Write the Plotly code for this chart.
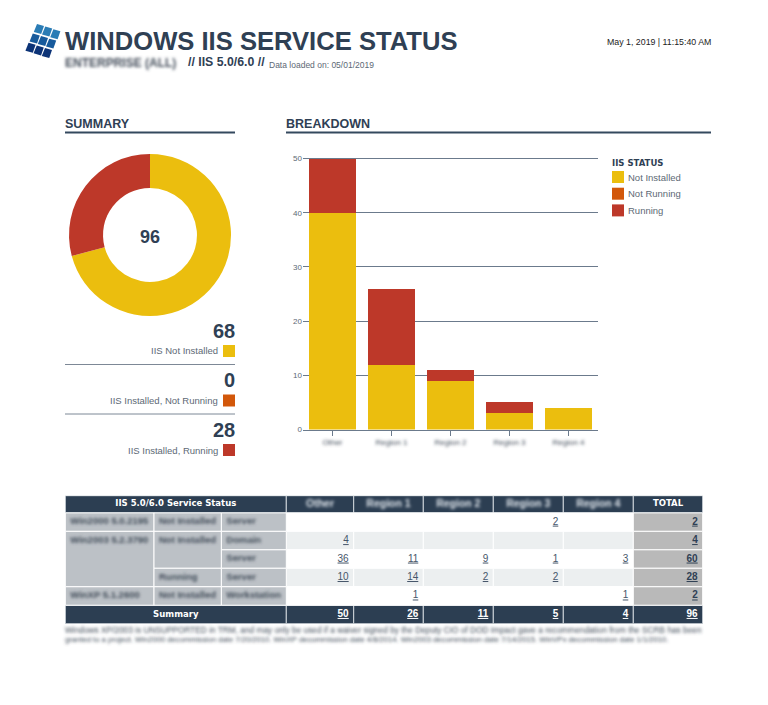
import plotly.graph_objects as go

W, H = 768, 705

# data
regions = ["Other", "Region 1", "Region 2", "Region 3", "Region 4"]
not_installed = [40, 12, 9, 3, 4]
not_running = [0, 0, 0, 0, 0]
running = [10, 14, 2, 2, 0]
y_ticks = [0, 10, 20, 30, 40, 50]

summary_labels = ["IIS Not Installed", "IIS Installed, Not Running", "IIS Installed, Running"]
summary_values = [68, 0, 28]
summary_total = "96"

table_title = "IIS 5.0/6.0 Service Status"
os_labels = [("Win2000 5.0.2195", 1), ("Win2003 5.2.3790", 3), ("WinXP 5.1.2600", 1)]
status_labels = [("Not Installed", 1), ("Not Installed", 2), ("Running", 1), ("Not Installed", 1)]
type_labels = ["Server", "Domain", "Server", "Server", "Workstation"]
table_rows = [
    [None, None, None, 2, None],
    [4, None, None, None, None],
    [36, 11, 9, 1, 3],
    [10, 14, 2, 2, None],
    [None, 1, None, None, 1],
]
row_totals = [2, 4, 60, 28, 2]
col_totals = [50, 26, 11, 5, 4]
grand_total = 96

footnote = [
    "Windows XP/2003 is UNSUPPORTED in TRM, and may only be used if a waiver signed by the Deputy CIO of DOD Impact gave a recommendation from the SCRB has been",
    "granted to a project. Win2000 decommission date 7/20/2010. WinXP decommission date 4/8/2014. Win2003 decommission date 7/14/2015. WinVPx decommission date 1/1/2010.",
]

# styles
NAVY = "#2c3e52"
TEXT = "#2f4054"
GREY = "#5d6975"
YELLOW = "#ebbe0e"
ORANGE = "#d2570a"
RED = "#bd3829"
LABEL_BG = "#bcc1c6"
STRIPE = "#eceff0"
TOTAL_BG = "#b9b9b9"
ARIAL = "Liberation Sans, Arial, sans-serif"
WIDE = "DejaVu Sans, Verdana, sans-serif"
# text in these two colours gets blurred once the page has drawn
BLUR_DARK = "#3f4a57"
BLUR_LIGHT = "#dfe5eb"


def px(x):
    return x / W


def py(y):
    return 1 - y / H


def label(x, y, text, size=10, color=TEXT, bold=False, anchor="left", family=ARIAL):
    font = dict(size=size, color=color, family=family, weight="bold" if bold else "normal")
    fig.add_annotation(xref="paper", yref="paper", x=px(x), y=py(y), text=text, showarrow=False,
                       xanchor=anchor, yanchor="middle", align=anchor, font=font, borderpad=0, borderwidth=0)


def box(x0, y0, x1, y1, color, line=None, xref="paper", yref="paper"):
    if xref == "paper":
        x0, x1, y0, y1 = px(x0), px(x1), py(y0), py(y1)
    fig.add_shape(type="rect", xref=xref, yref=yref, x0=x0, x1=x1, y0=y0, y1=y1, fillcolor=color,
                  line=dict(color=line or color, width=1 if line else 0), layer="below")


fig = go.Figure()

# donut
fig.add_trace(go.Pie(values=summary_values, labels=summary_labels, hole=0.58, sort=False, direction="clockwise",
                     rotation=0, textinfo="none", showlegend=False,
                     marker=dict(colors=[YELLOW, ORANGE, RED], line=dict(width=0)),
                     domain=dict(x=[px(69), px(231)], y=[py(316), py(154)])))

# stacked bars
for name, values, color in [("Not Installed", not_installed, YELLOW),
                            ("Not Running", not_running, ORANGE),
                            ("Running", running, RED)]:
    fig.add_trace(go.Bar(x=regions, y=values, name=name, marker=dict(color=color, line=dict(width=0)),
                         showlegend=False))

fig.update_layout(
    width=W, height=H, autosize=False, margin=dict(l=0, r=0, t=0, b=0, autoexpand=False),
    paper_bgcolor="white", plot_bgcolor="white", barmode="stack", bargap=0.2, showlegend=False,
    font=dict(family=ARIAL, color=TEXT),
    xaxis=dict(domain=[px(303), px(598)], anchor="y", tickmode="array", tickvals=regions, ticktext=regions,
               ticks="outside", ticklen=5, tickcolor="#6b7a8c", showline=True, linecolor="#6b7a8c", linewidth=1,
               showgrid=False, tickfont=dict(size=8, color=BLUR_DARK)),
    # range runs a little past 50 so the top gridline still gets drawn
    yaxis=dict(domain=[py(429.5), py(157.3)], anchor="x", range=[0, 50.25], tickmode="array", tickvals=y_ticks,
               showgrid=True, gridcolor="#6b7a8c", gridwidth=1, zeroline=False, showline=False, ticks="",
               ticklen=0, tickfont=dict(size=8, color=GREY)),
    xaxis2=dict(domain=[px(65), px(703)], anchor="y2", range=[65, 703], visible=False, fixedrange=True),
    yaxis2=dict(domain=[py(623.7), py(495.7)], anchor="x2", range=[6.0, -0.93], visible=False, fixedrange=True),
)

# logo tiles
for r in range(3):
    for c in range(3):
        top = 24 + r * 9.4 + c * 2.6
        left = 37 - r * 4.2 + c * 8.2
        shade = ["#2a7cb5", "#175a9c", "#0c3377"][r]
        path = "M{:.4f},{:.4f} L{:.4f},{:.4f} L{:.4f},{:.4f} L{:.4f},{:.4f} Z".format(
            px(left), py(top), px(left + 7), py(top + 2),
            px(left + 4.2), py(top + 10), px(left - 3.2), py(top + 8))
        fig.add_shape(type="path", xref="paper", yref="paper", path=path, fillcolor=shade, line=dict(width=0))

# header
label(65, 40.5, "WINDOWS IIS SERVICE STATUS", 25.6, TEXT, True)
label(65, 63, "ENTERPRISE (ALL)", 12, BLUR_DARK, True)
label(188, 62, "// IIS 5.0/6.0 //", 12.3, TEXT, True)
label(269, 65.5, "Data loaded on: 05/01/2019", 8.5, GREY)
label(711, 42, "May 1, 2019 | 11:15:40 AM", 8.8, "#222222", anchor="right")

# section headings
label(65, 124, "SUMMARY", 12.5, TEXT, True)
fig.add_shape(type="line", xref="paper", yref="paper", x0=px(65), x1=px(235), y0=py(132.5), y1=py(132.5),
              line=dict(color="#34495e", width=2))
label(286, 124, "BREAKDOWN", 12.5, TEXT, True)
fig.add_shape(type="line", xref="paper", yref="paper", x0=px(286), x1=px(711), y0=py(132.5), y1=py(132.5),
              line=dict(color="#34495e", width=2))

# donut total
label(150, 236.5, summary_total, 18, TEXT, True, anchor="center")

# summary figures
for i, (name, value, color) in enumerate(zip(summary_labels, summary_values, [YELLOW, ORANGE, RED])):
    off = i * 49.5
    label(235, 331 + off, str(value), 20, TEXT, True, anchor="right")
    label(218, 351 + off, name, 9.5, GREY, anchor="right")
    box(223, 345 + off, 235, 357 + off, color)
    if i < 2:
        fig.add_shape(type="line", xref="paper", yref="paper", x0=px(65), x1=px(235), y0=py(364.5 + off),
                      y1=py(364.5 + off), line=dict(color="#7d8896", width=1))

# legend
label(612, 163, "IIS STATUS", 8.5, TEXT, True, family=WIDE)
for i, (name, color) in enumerate(zip(["Not Installed", "Not Running", "Running"], [YELLOW, ORANGE, RED])):
    top = 171 + i * 16.7
    box(612, top, 624, top + 12, color)
    label(628, top + 6, name, 9.5, GREY)

# table
col_edges = [65.3, 154, 221.3, 286.3, 353.7, 423.3, 493.3, 563.3, 633.3, 702.7]
xt, yt = "x2", "y2"


def cell(col0, col1, row0, row1, color, line="white"):
    box(col_edges[col0], row0, col_edges[col1], row1, color, line, xt, yt)


cell(0, 3, -0.93, 0, NAVY, "#cfd5da")
for c in range(3, 9):
    cell(c, c + 1, -0.93, 0, NAVY, "#cfd5da")
cell(0, 3, 5, 6, NAVY, "#cfd5da")
for c in range(3, 9):
    cell(c, c + 1, 5, 6, NAVY, "#cfd5da")

n_rows = len(table_rows)
for r in range(n_rows):
    for c in range(5):
        cell(c + 3, c + 4, r, r + 1, STRIPE if r % 2 else "white")
    cell(8, 9, r, r + 1, TOTAL_BG)
    cell(2, 3, r, r + 1, LABEL_BG)

blur_x, blur_y, blur_text = [], [], []
r = 0
for text, span in os_labels:
    cell(0, 1, r, r + span, LABEL_BG)
    blur_x.append(col_edges[0] + 5)
    blur_y.append(r + 0.5 if span == 1 else r + 0.5)
    blur_text.append(text)
    r += span
r = 0
for text, span in status_labels:
    cell(1, 2, r, r + span, LABEL_BG)
    blur_x.append(col_edges[1] + 5)
    blur_y.append(r + 0.5)
    blur_text.append(text)
    r += span
for r, text in enumerate(type_labels):
    blur_x.append(col_edges[2] + 5)
    blur_y.append(r + 0.5)
    blur_text.append(text)

fig.add_trace(go.Scatter(x=blur_x, y=blur_y, text=blur_text, mode="text", textposition="middle right", xaxis=xt,
                         yaxis=yt, hoverinfo="skip",
                         textfont=dict(size=9.5, color=BLUR_DARK, family=ARIAL, weight="bold")))

# header blurred region names
fig.add_trace(go.Scatter(x=[(col_edges[c + 3] + col_edges[c + 4]) / 2 for c in range(5)], y=[-0.46] * 5,
                         text=regions, mode="text", textposition="middle center", xaxis=xt, yaxis=yt,
                         hoverinfo="skip", textfont=dict(size=10.5, color=BLUR_LIGHT, family=ARIAL, weight="bold")))

# table numbers
num_x, num_y, num_text = [], [], []
for r, row in enumerate(table_rows):
    for c, value in enumerate(row):
        if value is not None:
            num_x.append(col_edges[c + 4] - 5)
            num_y.append(r + 0.5)
            num_text.append("<u>%d</u>" % value)
fig.add_trace(go.Scatter(x=num_x, y=num_y, text=num_text, mode="text", textposition="middle left", xaxis=xt,
                         yaxis=yt, hoverinfo="skip", textfont=dict(size=10, color="#46566a", family=ARIAL)))

tot_x = [col_edges[9] - 5] * n_rows
fig.add_trace(go.Scatter(x=tot_x, y=[r + 0.5 for r in range(n_rows)], text=["<u>%d</u>" % v for v in row_totals],
                         mode="text", textposition="middle left", xaxis=xt, yaxis=yt, hoverinfo="skip",
                         textfont=dict(size=10, color=TEXT, family=ARIAL, weight="bold")))

sum_x = [col_edges[c + 4] - 5 for c in range(6)]
fig.add_trace(go.Scatter(x=sum_x, y=[5.5] * 6, text=["<u>%d</u>" % v for v in col_totals + [grand_total]],
                         mode="text", textposition="middle left", xaxis=xt, yaxis=yt, hoverinfo="skip",
                         textfont=dict(size=10, color="white", family=ARIAL, weight="bold")))

fig.add_trace(go.Scatter(x=[(col_edges[0] + col_edges[3]) / 2, (col_edges[0] + col_edges[3]) / 2,
                            (col_edges[8] + col_edges[9]) / 2],
                         y=[-0.46, 5.5, -0.46], text=[table_title, "Summary", "TOTAL"], mode="text",
                         textposition="middle center", xaxis=xt, yaxis=yt, hoverinfo="skip",
                         textfont=dict(size=8.5, color="white", family=WIDE, weight="bold")))

# footnote
label(65, 629.5, footnote[0], 8.3, BLUR_DARK)
label(65, 639, footnote[1], 7.65, BLUR_DARK)

# the names are smudged in the original, svg filter does the same here
blur_js = """
document.body.style.margin = '0';
var svg = document.querySelector('svg.main-svg');
var ns = 'http://www.w3.org/2000/svg';
var filter = document.createElementNS(ns, 'filter');
filter.setAttribute('id', 'textblur');
filter.setAttribute('x', '-10%'); filter.setAttribute('y', '-100%');
filter.setAttribute('width', '120%'); filter.setAttribute('height', '300%');
var blur = document.createElementNS(ns, 'feGaussianBlur');
blur.setAttribute('stdDeviation', '1.4');
filter.appendChild(blur);
var defs = document.createElementNS(ns, 'defs');
defs.appendChild(filter);
svg.appendChild(defs);
document.querySelectorAll('svg text').forEach(function (t) {
    var fill = t.style.fill.replace(/ /g, '');
    if (fill === 'rgb(63,74,87)' || fill === 'rgb(223,229,235)') {
        t.setAttribute('filter', 'url(#textblur)');
    }
});
"""
fig.write_html("out.html", post_script=blur_js, config=dict(displayModeBar=False))
